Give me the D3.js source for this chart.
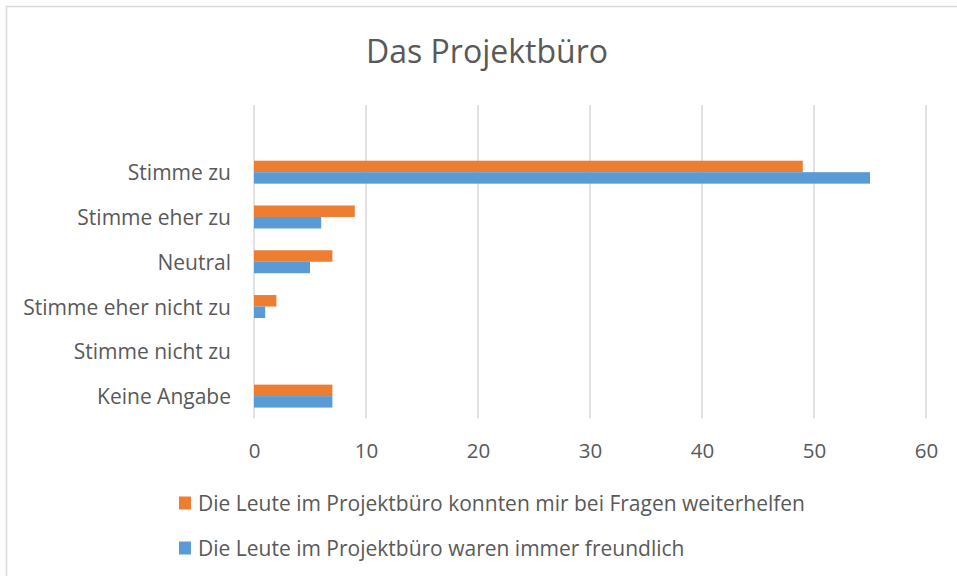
<!DOCTYPE html>
<html>
<head>
<meta charset="utf-8">
<script src="https://cdn.jsdelivr.net/npm/d3@7"></script>
<style>
  html, body { margin: 0; padding: 0; background: #fff; }
  svg { display: block; font-family: "Open Sans", "Noto Sans", sans-serif; }
</style>
</head>
<body>
<svg id="chart" width="957" height="576"></svg>
<script>
// categories top -> bottom; the first slot is an empty row that Excel kept
const categories = ["", "Stimme zu", "Stimme eher zu", "Neutral", "Stimme eher nicht zu", "Stimme nicht zu", "Keine Angabe"];
const seriesNames = [
  "Die Leute im Projektbüro konnten mir bei Fragen weiterhelfen",
  "Die Leute im Projektbüro waren immer freundlich"
];
const helpfulValues = [null, 49, 9, 7, 2, 0, 7];
const friendlyValues = [null, 55, 6, 5, 1, 0, 7];
const xTicks = [0, 10, 20, 30, 40, 50, 60];
const colors = ["#ED7D31", "#5B9BD5"];

const TEXT = "#595959";
const GRID = "#D9D9D9";

const svg = d3.select("#chart");

// chart frame (runs off the right/bottom edge like the screenshot)
svg.append("rect")
  .attr("x", 6.5).attr("y", 6.5)
  .attr("width", 980).attr("height", 600)
  .attr("fill", "#fff")
  .attr("stroke", GRID)
  .attr("stroke-width", 1.5);

svg.append("text")
  .attr("x", 487).attr("y", 50)
  .attr("text-anchor", "middle")
  .attr("dominant-baseline", "central")
  .attr("fill", TEXT)
  .style("font-size", "32px")
  .text("Das Projektbüro");

const x = d3.scaleLinear().domain([0, 60]).range([254, 926]);
const gap = 0.487;
const y = d3.scaleBand().domain(categories).range([105, 418.5])
  .paddingInner(gap).paddingOuter(gap / 2);
const ySub = d3.scaleBand().domain([0, 1]).range([0, y.bandwidth()]);

// gridlines
svg.append("g")
  .selectAll("line")
  .data(xTicks)
  .join("line")
  .attr("x1", d => x(d)).attr("x2", d => x(d))
  .attr("y1", 105).attr("y2", 418.5)
  .attr("stroke", GRID)
  .attr("stroke-width", 1.5);

// x axis labels
const xAxis = d3.axisBottom(x).tickValues(xTicks).tickSize(0).tickPadding(0);
const gx = svg.append("g").attr("transform", "translate(0,450)").call(xAxis);
gx.select(".domain").remove();
gx.selectAll("text")
  .attr("y", 0).attr("dy", null)
  .attr("dominant-baseline", "central")
  .attr("fill", TEXT)
  .style("font-size", "20.5px")
  .style("font-family", "\"Open Sans\", sans-serif");

// y axis labels
const yAxis = d3.axisLeft(y).tickSize(0).tickPadding(0);
const gy = svg.append("g").attr("transform", "translate(231,0)").call(yAxis);
gy.select(".domain").remove();
gy.selectAll("text")
  .attr("x", 0).attr("dy", null)
  .attr("dominant-baseline", "central")
  .attr("fill", TEXT)
  .style("font-size", "21px")
  .style("font-family", "\"Open Sans\", sans-serif");

// bars
const series = [helpfulValues, friendlyValues];
series.forEach((vals, si) => {
  svg.append("g")
    .selectAll("rect")
    .data(categories.map((c, i) => ({ c, v: vals[i] })).filter(d => d.v != null))
    .join("rect")
    .attr("x", x(0))
    .attr("y", d => y(d.c) + ySub(si))
    .attr("width", d => x(d.v) - x(0))
    .attr("height", ySub.bandwidth())
    .attr("fill", colors[si]);
});

// legend
const legend = svg.append("g")
  .selectAll("g")
  .data(seriesNames)
  .join("g")
  .attr("transform", (d, i) => `translate(179,${503 + i * 45})`);

legend.append("rect")
  .attr("x", 0).attr("y", -6.5)
  .attr("width", 12).attr("height", 13)
  .attr("fill", (d, i) => colors[i]);

legend.append("text")
  .attr("x", 19).attr("y", 0)
  .attr("dominant-baseline", "central")
  .attr("fill", TEXT)
  .style("font-size", "21px")
  .text(d => d);
</script>
</body>
</html>
